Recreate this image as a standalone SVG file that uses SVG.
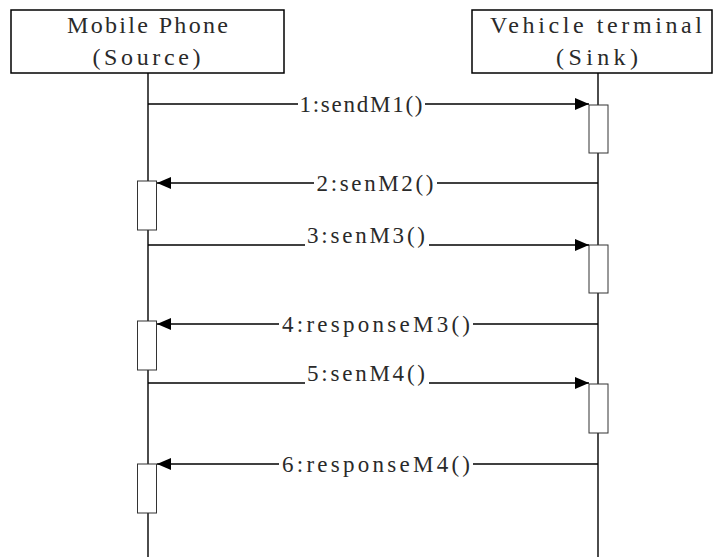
<svg xmlns="http://www.w3.org/2000/svg" width="713" height="557" viewBox="0 0 713 557">
<style>
.box{fill:#fff;stroke:#000;stroke-width:1.5}
.act{fill:#fff;stroke:#333;stroke-width:1}
.life{stroke:#000;stroke-width:1.4;fill:none}
.msg{stroke:#000;stroke-width:1.4;fill:none;marker-end:url(#ah)}
.hdr{font-family:"Liberation Serif",serif;font-size:24px;fill:#2a2a2a;text-anchor:middle}
.lbl{font-family:"Liberation Serif",serif;font-size:23px;fill:#2a2a2a;text-anchor:middle}
.bg{fill:#fff}
</style>
<defs>
<marker id="ah" markerUnits="userSpaceOnUse" markerWidth="14" markerHeight="12" refX="14" refY="6" orient="auto">
<path d="M0,0 L14,6 L0,12 Z" fill="#000"/>
</marker>
</defs>
<g id="source">
<rect class="box" x="11" y="10" width="273" height="63"/>
<text class="hdr" x="147.5" y="33" textLength="161" lengthAdjust="spacing">Mobile Phone</text>
<text class="hdr" x="146.5" y="65" textLength="108" lengthAdjust="spacing">(Source)</text>
<line class="life" x1="148" y1="73" x2="148" y2="557"/>
</g>
<g id="sink">
<rect class="box" x="472" y="10" width="240" height="63"/>
<text class="hdr" x="596" y="33" textLength="212" lengthAdjust="spacing">Vehicle terminal</text>
<text class="hdr" x="597" y="65" textLength="82" lengthAdjust="spacing">(Sink)</text>
<line class="life" x1="598" y1="73" x2="598" y2="557"/>
</g>
<g id="activations">
<rect class="act" x="589" y="105" width="19" height="48"/>
<rect class="act" x="137.5" y="181" width="19" height="49"/>
<rect class="act" x="589" y="245" width="19" height="48"/>
<rect class="act" x="137.5" y="321" width="19" height="49"/>
<rect class="act" x="589" y="384" width="19" height="49"/>
<rect class="act" x="137.5" y="464" width="19" height="49"/>
</g>
<g id="connectors">
<line class="msg" x1="148" y1="104" x2="589" y2="104"/>
<rect class="bg" x="298" y="92" width="127" height="24"/>
<text class="lbl" x="361" y="112" textLength="123" lengthAdjust="spacing">1:sendM1()</text>

<line class="msg" x1="598" y1="183" x2="157" y2="183"/>
<rect class="bg" x="314" y="171" width="123" height="24"/>
<text class="lbl" x="375" y="191" textLength="117" lengthAdjust="spacing">2:senM2()</text>

<line class="msg" x1="148" y1="245" x2="589" y2="245"/>
<rect class="bg" x="305" y="238" width="124" height="14"/>
<text class="lbl" x="366" y="243" textLength="118" lengthAdjust="spacing">3:senM3()</text>

<line class="msg" x1="598" y1="324" x2="157" y2="324"/>
<rect class="bg" x="279" y="312" width="194" height="24"/>
<text class="lbl" x="376" y="332" textLength="188" lengthAdjust="spacing">4:responseM3()</text>

<line class="msg" x1="148" y1="383" x2="589" y2="383"/>
<rect class="bg" x="305" y="376" width="124" height="14"/>
<text class="lbl" x="366" y="381" textLength="118" lengthAdjust="spacing">5:senM4()</text>

<line class="msg" x1="598" y1="464" x2="157" y2="464"/>
<rect class="bg" x="279" y="452" width="194" height="24"/>
<text class="lbl" x="376" y="472" textLength="188" lengthAdjust="spacing">6:responseM4()</text>
</g>
</svg>
